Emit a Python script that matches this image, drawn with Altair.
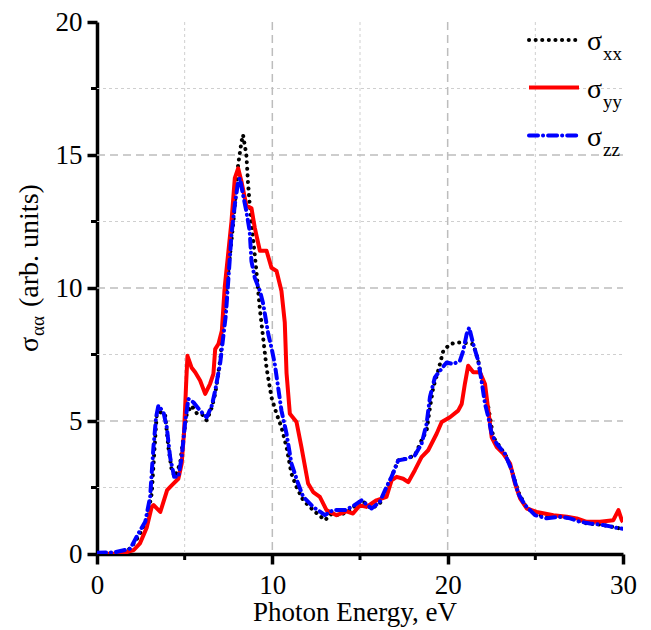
import altair as alt
import pandas as pd

# ---------------- data ----------------
xx_energy = [0, 1.0, 1.5, 1.9, 2.36, 2.84, 3.12, 3.31, 3.41, 3.6, 3.88, 4.07, 4.26, 4.45, 4.74, 4.93,
             5.12, 5.4, 5.69, 5.98, 6.26, 6.55, 6.74, 7.03, 7.39, 7.78, 8.05, 8.24, 8.33, 8.52, 8.61,
             8.71, 8.9, 9.09, 9.29, 9.48, 9.67, 9.95, 10.24, 10.52, 10.81, 11.09, 11.38, 11.76, 12.33,
             13.0, 13.39, 13.85, 14.42, 15.09, 15.66, 16.13, 16.51, 16.8, 17.18, 17.65, 18.13, 18.51,
             18.8, 18.99, 19.18, 19.46, 19.75, 20.13, 20.51, 20.89, 21.46, 21.74, 22.03, 22.32, 22.6,
             22.99, 23.37, 23.65, 24.03, 24.41, 24.89, 25.65, 26.41, 27.17, 27.93, 28.88, 29.83, 30]
xx_sigma = [0, 0.03, 0.08, 0.21, 0.65, 1.27, 2.27, 4.27, 5.27, 5.33, 5.27, 4.02, 3.15, 2.9, 3.4, 4.39,
            5.27, 5.58, 5.29, 5.27, 5.02, 5.52, 6.02, 7.3, 10.0, 12.5, 14.63, 15.5, 15.76, 15.0, 14.0,
            13.13, 11.88, 10.64, 9.2, 8.1, 7.0, 5.89, 5.27, 4.77, 4.02, 3.02, 2.52, 2.02, 1.65,
            1.27, 1.52, 1.45, 1.65, 2.02, 1.71, 1.9, 2.4, 2.9, 3.52, 3.58, 3.71, 4.27,
            4.64, 5.5, 6.27, 6.89, 7.64, 7.89, 7.95, 7.95, 7.89, 7.27, 6.27, 5.52, 4.39,
            4.02, 3.64, 3.15, 2.33, 1.84, 1.52, 1.4, 1.4, 1.34, 1.15, 1.09, 0.96, 0.95]

yy_energy = [0, 1.0, 1.6, 2.1, 2.45, 2.84, 3.12, 3.23, 3.61, 4.0, 4.26, 4.64, 4.83, 4.97, 5.09, 5.16,
             5.4, 5.6, 5.88, 6.17, 6.45, 6.64, 6.74, 6.93, 7.12, 7.28, 7.67, 7.86, 8.05, 8.24, 8.52,
             8.81, 9.0, 9.29, 9.67, 9.95, 10.24, 10.52, 10.71, 10.81, 11.0, 11.38, 11.66, 12.04, 12.33,
             12.71, 13.09, 13.66, 14.23, 14.6, 14.99, 15.37, 15.94, 16.51, 16.8, 17.09, 17.46, 17.75,
             18.13, 18.51, 18.89, 19.37, 19.66, 20.13, 20.6, 20.8, 20.98, 21.17, 21.46, 21.84, 22.13,
             22.32, 22.51, 22.8, 23.17, 23.56, 23.84, 24.13, 24.51, 25.08, 26.03, 26.8, 27.36, 27.93,
             28.69, 29.45, 29.74, 29.93, 30]
yy_sigma = [0, 0.02, 0.05, 0.15, 0.4, 1.0, 1.77, 1.84, 1.58, 2.4, 2.58, 2.83, 3.4, 4.64, 6.5, 7.45,
            7.0, 6.83, 6.52, 6.02, 6.4, 6.77, 7.7, 7.9, 8.39, 10.0, 12.5, 14.13, 14.5, 14.0, 13.1,
            13.0, 12.26, 11.4, 11.4, 10.76, 10.64, 9.89, 8.7, 6.8, 5.27, 4.96, 4.02, 2.65, 2.33,
            2.15, 1.65, 1.46, 1.6, 1.52, 1.83, 1.77, 2.02, 2.15, 2.77, 2.9, 2.83, 2.7,
            3.15, 3.64, 3.9, 4.52, 4.96, 5.14, 5.39, 5.64, 6.39, 7.08, 6.83, 6.83, 6.39,
            5.39, 4.39, 4.02, 3.77, 3.4, 2.65, 2.09, 1.71, 1.58, 1.46, 1.4, 1.34, 1.21,
            1.21, 1.27, 1.65, 1.27, 1.2]

zz_energy = [0, 1.0, 1.9, 2.36, 2.75, 3.03, 3.22, 3.37, 3.5, 3.79, 3.98, 4.17, 4.4, 4.64, 4.83, 5.02,
             5.21, 5.5, 5.88, 6.26, 6.55, 6.74, 7.03, 7.35, 7.67, 7.86, 8.05, 8.15, 8.33, 8.52, 8.71,
             8.81, 9.0, 9.29, 9.48, 9.77, 9.95, 10.14, 10.33, 10.52, 10.81, 11.09, 11.47, 11.76, 12.33,
             13.0, 13.47, 14.14, 14.61, 15.09, 15.66, 16.13, 16.51, 16.8, 17.18, 17.65, 18.13, 18.51,
             18.8, 18.99, 19.27, 19.56, 19.94, 20.32, 20.7, 20.89, 21.08, 21.23, 21.46, 21.74, 21.93,
             22.13, 22.32, 22.51, 22.8, 23.27, 23.65, 24.03, 24.41, 24.98, 25.65, 26.41, 26.98, 27.55,
             28.12, 28.88, 29.83, 30]
zz_sigma = [0.05, 0.06, 0.2, 0.77, 1.21, 2.15, 4.02, 5.14, 5.58, 5.33, 4.77, 3.64, 2.9, 2.9, 3.64, 4.9,
            5.83, 5.7, 5.39, 5.14, 5.58, 6.14, 7.2, 9.0, 12.0, 13.13, 14.0, 14.13, 13.5, 12.88, 12.13,
            11.0, 10.38, 9.89, 9.4, 8.26, 7.76, 7.14, 6.27, 5.39, 4.52, 3.4, 2.65, 2.15, 1.77,
            1.46, 1.65, 1.65, 1.8, 2.02, 1.71, 1.96, 2.52, 2.9, 3.52, 3.58, 3.71, 4.14,
            4.9, 5.9, 6.64, 6.89, 7.2, 7.14, 7.27, 7.64, 8.26, 8.51, 7.89, 7.27, 6.52,
            5.64, 5.14, 4.52, 4.14, 3.77, 3.15, 2.27, 1.84, 1.46, 1.34, 1.4, 1.34, 1.21,
            1.15, 1.09, 0.96, 0.95]

x_major_ticks = [0, 10, 20, 30]
x_minor_ticks = [5, 15, 25]
y_major_ticks = [0, 5, 10, 15, 20]
y_minor_ticks = [2.5, 7.5, 12.5, 17.5]
x_major_grid = [10, 20]
x_minor_grid = [5, 15, 25]
y_major_grid = [5, 10, 15]
y_minor_grid = [2.5, 7.5, 12.5, 17.5]

x_title = "Photon Energy, eV"
y_title_main = "σ"
y_title_sub = "αα"
y_title_rest = "(arb. units)"
legend_main = ["σ", "σ", "σ"]
legend_subs = ["xx", "yy", "zz"]

# ---------------- chart ----------------
W, H = 526, 532
FONT = "Liberation Serif"

xscale = alt.Scale(domain=[0, 30], nice=False, zero=False)
yscale = alt.Scale(domain=[0, 20], nice=False, zero=False)

x_axis = alt.Axis(values=x_major_ticks, grid=False, domainColor="black", domainWidth=3.5,
                  tickColor="black", tickWidth=3.5, tickSize=10, labelFont=FONT, labelFontSize=27,
                  labelColor="black", labelPadding=8, labelFlush=False, title=None)
y_axis = alt.Axis(values=y_major_ticks, grid=False, domainColor="black", domainWidth=3.5,
                  tickColor="black", tickWidth=3.5, tickSize=10, labelFont=FONT, labelFontSize=27,
                  labelColor="black", labelPadding=5, labelFlush=False, title=None)

X = lambda f: alt.X(f, type="quantitative", scale=xscale, axis=x_axis)
Y = lambda f: alt.Y(f, type="quantitative", scale=yscale, axis=y_axis)

layers = []

# grid
def vgrid(vals, dash, width, color):
    return alt.Chart(pd.DataFrame({"v": vals})).mark_rule(
        strokeDash=dash, strokeWidth=width, color=color).encode(
        x=X("v"), y=alt.value(0), y2=alt.value(H))

def hgrid(vals, dash, width, color):
    return alt.Chart(pd.DataFrame({"v": vals})).mark_rule(
        strokeDash=dash, strokeWidth=width, color=color).encode(
        y=Y("v"), x=alt.value(0), x2=alt.value(W))

layers += [vgrid(x_minor_grid, [3, 3], 1, "#cfcfcf"),
           hgrid(y_minor_grid, [3, 3], 1, "#cfcfcf"),
           vgrid(x_major_grid, [8, 5], 1.5, "#bdbdbd"),
           hgrid(y_major_grid, [8, 5], 1.5, "#bdbdbd")]

# curves
def curve(e, s, color, dash=None, cap="butt"):
    kw = dict(color=color, strokeWidth=4, strokeCap=cap, strokeJoin="round", clip=True)
    if dash:
        kw["strokeDash"] = dash
    return alt.Chart(pd.DataFrame({"energy": e, "sigma": s})).mark_line(**kw).encode(
        x=X("energy"), y=Y("sigma"), order="energy:Q")

layers += [curve(xx_energy, xx_sigma, "black", [0.1, 6.5], "round"),
           curve(yy_energy, yy_sigma, "#ff0000"),
           curve(zz_energy, zz_sigma, "#0000ff", [9, 5, 0.1, 5], "round")]

# minor ticks
layers.append(alt.Chart(pd.DataFrame({"v": x_minor_ticks})).mark_rule(
    color="black", strokeWidth=3).encode(x=X("v"), y=alt.value(H), y2=alt.value(H + 6)))
layers.append(alt.Chart(pd.DataFrame({"v": y_minor_ticks})).mark_rule(
    color="black", strokeWidth=3).encode(y=Y("v"), x=alt.value(-6), x2=alt.value(0)))

# legend
leg_y = [18, 65.5, 113.5]
leg_styles = [dict(color="black", strokeDash=[0.1, 6.5], strokeCap="round"),
              dict(color="#ff0000"),
              dict(color="#0000ff", strokeDash=[9, 5, 0.1, 5], strokeCap="round")]
for i in range(3):
    layers.append(alt.Chart(pd.DataFrame({"k": [i]})).mark_rule(strokeWidth=4, **leg_styles[i]).encode(
        x=alt.value(432), x2=alt.value(482), y=alt.value(leg_y[i])))
    layers.append(alt.Chart(pd.DataFrame({"t": [legend_main[i]]})).mark_text(
        font=FONT, fontSize=28, align="left", baseline="alphabetic", color="black").encode(
        x=alt.value(490), y=alt.value(leg_y[i] + 10), text="t:N"))
    layers.append(alt.Chart(pd.DataFrame({"t": [legend_subs[i]]})).mark_text(
        font=FONT, fontSize=19, align="left", baseline="alphabetic", color="black").encode(
        x=alt.value(506), y=alt.value(leg_y[i] + 20), text="t:N"))

# axis titles
layers.append(alt.Chart(pd.DataFrame({"t": [x_title]})).mark_text(
    font=FONT, fontSize=27, align="center", baseline="alphabetic", color="black").encode(
    x=alt.value(258), y=alt.value(599), text="t:N"))
layers.append(alt.Chart(pd.DataFrame({"t": [y_title_main]})).mark_text(
    font=FONT, fontSize=28, align="left", baseline="alphabetic", angle=270, color="black").encode(
    x=alt.value(-59), y=alt.value(330), text="t:N"))
layers.append(alt.Chart(pd.DataFrame({"t": [y_title_sub]})).mark_text(
    font=FONT, fontSize=19, align="left", baseline="alphabetic", angle=270, color="black").encode(
    x=alt.value(-53), y=alt.value(314), text="t:N"))
layers.append(alt.Chart(pd.DataFrame({"t": [y_title_rest]})).mark_text(
    font=FONT, fontSize=28, align="left", baseline="alphabetic", angle=270, color="black").encode(
    x=alt.value(-59), y=alt.value(285), text="t:N"))

chart = alt.layer(*layers).properties(
    width=W, height=H,
    autosize=alt.AutoSizeParams(type="none"),
    padding={"left": 89, "top": 14, "right": 20, "bottom": 76},
    background="white",
).configure_view(stroke=None)

chart.save("out.html", embed_options={"renderer": "svg", "actions": False})
